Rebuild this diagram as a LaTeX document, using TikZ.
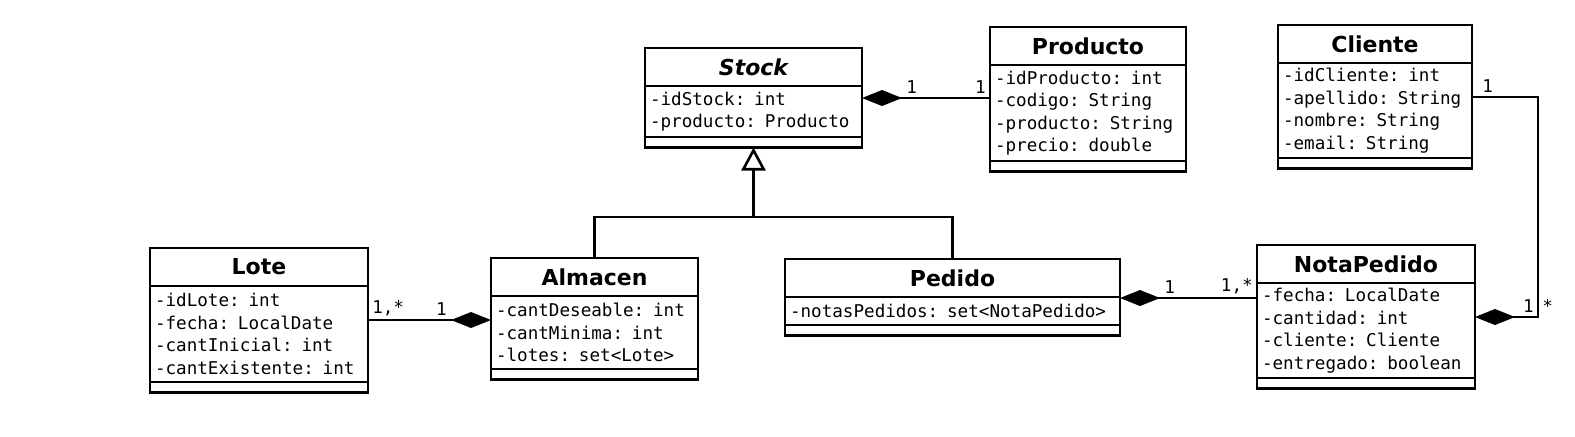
\documentclass[tikz,border=0pt]{standalone}
\usepackage{fontspec}
\setmainfont{DejaVu Sans}
\setmonofont{DejaVu Sans Mono}
\usetikzlibrary{positioning,arrows.meta}

\begin{document}
\begin{tikzpicture}[x=0.5pt,y=-0.5pt,line width=1.3pt,
  title/.style={draw,minimum height=19pt,inner sep=0pt,outer sep=0pt,font=\bfseries\fontsize{11}{13}\selectfont},
  attrs/.style={draw,inner xsep=2.5pt,inner ysep=0pt,outer sep=0pt,align=left,minimum height=#1,font=\ttfamily\fontsize{8.8}{11.25}\selectfont},
  ops/.style={draw,minimum height=5.25pt,inner sep=0pt,outer sep=0pt},
  mult/.style={inner sep=1.5pt,font=\ttfamily\fontsize{8.8}{11.25}\selectfont},
  compo/.style={-{Diamond[length=20pt,width=8pt]}},
  inherit/.style={-{Triangle[open,length=11.5pt,width=12pt]}}]
\useasboundingbox (0,0) rectangle (1575,436);

\node[title,minimum width=108.5pt,anchor=north west,font=\bfseries\itshape\fontsize{11}{13}\selectfont] (stock) at (645,48) {Stock};
\node[attrs=25.5pt,text width=103.5pt,below=0pt of stock] (stockA) {-idStock: int\\-producto: Producto};
\node[ops,minimum width=108.5pt,below=0pt of stockA] (stockO) {};

\node[title,minimum width=98pt,anchor=north west] (prod) at (990,27) {Producto};
\node[attrs=48pt,text width=93pt,below=0pt of prod] (prodA) {-idProducto: int\\-codigo: String\\-producto: String\\-precio: double};
\node[ops,minimum width=98pt,below=0pt of prodA] (prodO) {};

\node[title,minimum width=97pt,anchor=north west] (cli) at (1278,25) {Cliente};
\node[attrs=47.5pt,text width=92pt,below=0pt of cli] (cliA) {-idCliente: int\\-apellido: String\\-nombre: String\\-email: String};
\node[ops,minimum width=97pt,below=0pt of cliA] (cliO) {};

\node[title,minimum width=109pt,anchor=north west] (lote) at (150,248) {Lote};
\node[attrs=48pt,text width=104pt,below=0pt of lote] (loteA) {-idLote: int\\-fecha: LocalDate\\-cantInicial: int\\-cantExistente: int};
\node[ops,minimum width=109pt,below=0pt of loteA] (loteO) {};

\node[title,minimum width=103.5pt,anchor=north west] (alm) at (491,258) {Almacen};
\node[attrs=36.5pt,text width=98.5pt,below=0pt of alm] (almA) {-cantDeseable: int\\-cantMinima: int\\-lotes: set<Lote>};
\node[ops,minimum width=103.5pt,below=0pt of almA] (almO) {};

\node[title,minimum width=167.5pt,anchor=north west] (ped) at (785,259) {Pedido};
\node[attrs=14pt,text width=162.5pt,below=0pt of ped] (pedA) {-notasPedidos: set<NotaPedido>};
\node[ops,minimum width=167.5pt,below=0pt of pedA] (pedO) {};

\node[title,minimum width=109pt,anchor=north west] (np) at (1257,245) {NotaPedido};
\node[attrs=47.5pt,text width=104pt,below=0pt of np] (npA) {-fecha: LocalDate\\-cantidad: int\\-cliente: Cliente\\-entregado: boolean};
\node[ops,minimum width=109pt,below=0pt of npA] (npO) {};

% herencia
\coordinate (joint) at (stockO.south |- 0,217);
\draw[inherit] (joint) -- (stockO.south);
\draw (alm.north) |- (joint) -| (ped.north);

\draw[compo] (prodA.west |- 0,98) -- node[mult,at start,anchor=south east] (m1) {1} node[mult,at end,anchor=south west,xshift=20pt] (m2) {1} (stockA.east |- 0,98);
\draw[compo] (loteA.east |- 0,320) -- node[mult,at start,anchor=south west] (m3) {1,*} node[mult,at end,anchor=south east,xshift=-20pt] (m4) {1} (almA.west |- 0,320);
\draw[compo] (npA.west |- 0,298) -- node[mult,at start,anchor=south east] (m5) {1,*} node[mult,at end,anchor=south west,xshift=20pt] (m6) {1} (pedA.east |- 0,298);
\draw[compo] (cliA.east |- 0,97) -- node[mult,at start,anchor=south west,xshift=3pt] (m7) {1} ++(66,0) |- node[mult,pos=0.5,anchor=south east] (m8) {1} node[mult,pos=0.5,anchor=south west] (m9) {*} (npA.east |- 0,317);
\end{tikzpicture}
\end{document}
